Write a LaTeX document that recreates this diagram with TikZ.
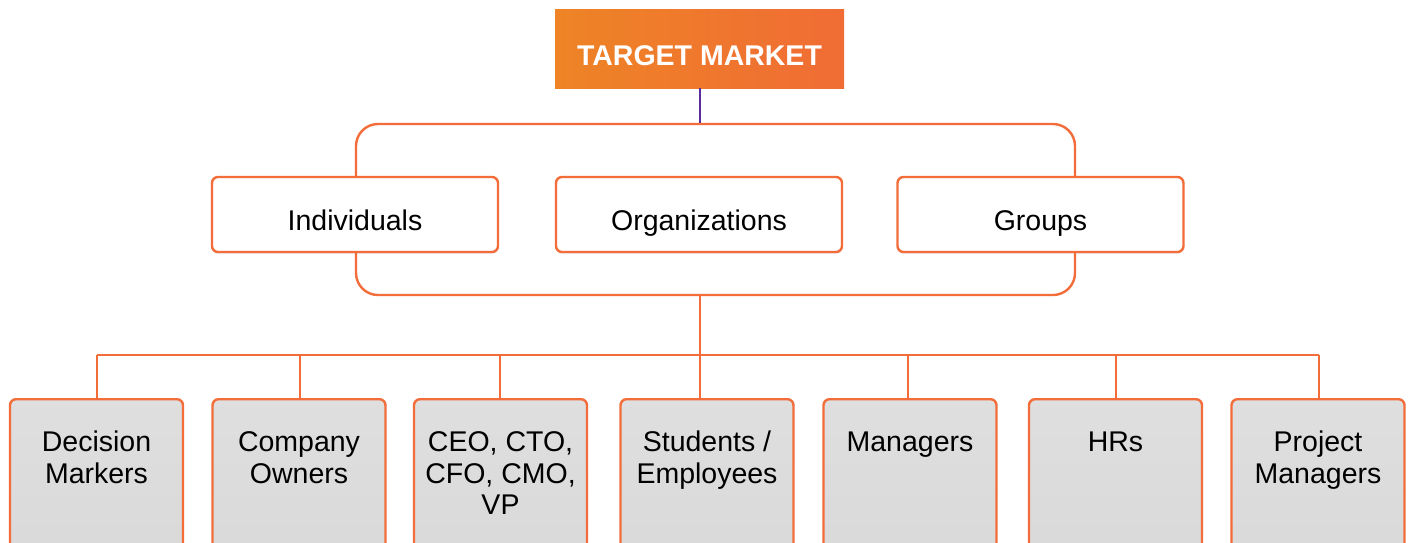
\documentclass[tikz,border=0pt]{standalone}
\usepackage{fontspec}
\setmainfont{Liberation Sans}
\usetikzlibrary{shadows}
\definecolor{orng}{HTML}{F26D3A}
\definecolor{tgL}{HTML}{EE8426}
\definecolor{tgR}{HTML}{F06C34}
\definecolor{purp}{HTML}{5B2CA0}
\definecolor{boxgray}{HTML}{D9D9D9}
\tikzset{
  conn/.style={draw=orng, line width=2.4pt},
  titlebox/.style={shape=rectangle, minimum width=289pt, minimum height=79pt, left color=tgL, right color=tgR, draw=none, inner sep=0pt},
  titletext/.style={anchor=base, text=white, font=\fontsize{28.5}{32}\selectfont\bfseries, inner sep=0pt},
  midbox/.style={shape=rectangle, rounded corners=6pt, minimum width=286pt, minimum height=75pt, fill=white, draw=orng, line width=2.4pt, inner sep=0pt, drop shadow={opacity=0.12, shadow xshift=0pt, shadow yshift=-2pt}},
  midtext/.style={anchor=base, font=\fontsize{28.5}{32}\selectfont, inner sep=0pt},
  lowbox/.style={shape=rectangle, rounded corners=6pt, minimum width=173pt, minimum height=170pt, anchor=north, top color=boxgray!85!white, bottom color=boxgray, draw=orng, line width=2.4pt, inner sep=0pt, drop shadow={opacity=0.12, shadow xshift=0pt, shadow yshift=-2pt}},
  lowtext/.style={anchor=north, align=center, font=\fontsize{28.5}{31.5}\selectfont, inner sep=0pt},
}
\begin{document}
\begin{tikzpicture}[x=1pt, y=-1pt]
\useasboundingbox (0,0) rectangle (1412,542);
\clip (0,0) rectangle (1412,542);
\fill[white] (0,0) rectangle (1412,542);
% title
\node[titlebox] (title) at (699.5,48.5) {};
\node[titletext] (titletxt) at (699.5,65) {TARGET MARKET};
% frame
\node[shape=rectangle, rounded corners=22pt, minimum width=719pt, minimum height=171pt, draw=orng, line width=2.4pt, inner sep=0pt] (frame) at (715.5,209.5) {};
% middle boxes
\node[midbox] (ind) at (355,214.5) {};
\node[midbox] (org) at (699,214.5) {};
\node[midbox] (grp) at (1040.5,214.5) {};
\node[midtext] (indt) at (355,230) {Individuals};
\node[midtext] (orgt) at (699,230) {Organizations};
\node[midtext] (grpt) at (1040.5,230) {Groups};
% bus
\coordinate (trunk) at (700,88);
\coordinate (busL) at (97,355);
\coordinate (busR) at (1319,355);
\draw[draw=purp, line width=2.4pt] (trunk) -- (trunk |- frame.north);
\draw[conn] (trunk |- frame.south) -- (trunk |- busL);
\draw[conn] (busL) -- (busR);
% lower boxes
\node[lowbox] (b1) at (96.5,398) {};
\node[lowbox] (b2) at (299,398) {};
\node[lowbox] (b3) at (500.5,398) {};
\node[lowbox] (b4) at (707,398) {};
\node[lowbox] (b5) at (910,398) {};
\node[lowbox] (b6) at (1115.5,398) {};
\node[lowbox] (b7) at (1318,398) {};
\coordinate (d1) at (97,398);
\coordinate (d2) at (300,398);
\coordinate (d3) at (500,398);
\coordinate (d4) at (700,398);
\coordinate (d5) at (908,398);
\coordinate (d6) at (1116,398);
\coordinate (d7) at (1319,398);
\foreach \i in {1,...,7}{\draw[conn] (d\i) -- (d\i |- busL);}
\node[lowtext] (t1) at (96.5,429.6) {\strut Decision\\Markers};
\node[lowtext] (t2) at (299,429.6) {\strut Company\\Owners};
\node[lowtext] (t3) at (500.5,429.6) {\strut CEO, CTO,\\CFO, CMO,\\VP};
\node[lowtext] (t4) at (707,429.6) {\strut Students /\\Employees};
\node[lowtext] (t5) at (910,429.6) {\strut Managers};
\node[lowtext] (t6) at (1115.5,429.6) {\strut HRs};
\node[lowtext] (t7) at (1318,429.6) {\strut Project\\Managers};
\end{tikzpicture}
\end{document}
